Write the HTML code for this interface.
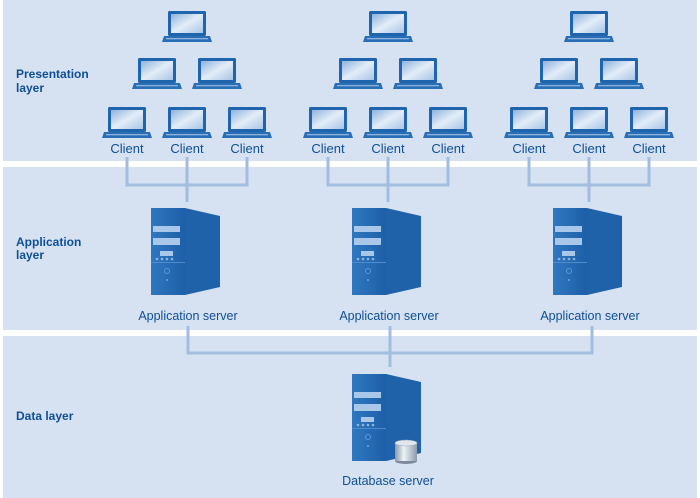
<!DOCTYPE html>
<html><head><meta charset="utf-8"><style>
html,body{margin:0;padding:0;background:#fff;}
svg{display:block;}
text{font-family:"Liberation Sans",Arial,sans-serif;fill:#0f4f94;}
</style></head><body>
<svg width="700" height="498" viewBox="0 0 700 498" xmlns="http://www.w3.org/2000/svg">
<defs>
<linearGradient id="scr" x1="0" y1="0" x2="1" y2="1">
<stop offset="0" stop-color="#8fb2dc"/><stop offset="0.5" stop-color="#e3edf8"/><stop offset="1" stop-color="#a9c5e6"/>
</linearGradient>
<linearGradient id="front" x1="0" y1="0" x2="1" y2="0">
<stop offset="0" stop-color="#2f78c0"/><stop offset="1" stop-color="#1d5fa8"/>
</linearGradient>
<linearGradient id="cyl" x1="0" y1="0" x2="1" y2="0">
<stop offset="0" stop-color="#8a98a8"/><stop offset="0.4" stop-color="#eef2f6"/><stop offset="1" stop-color="#8c9aab"/>
</linearGradient>
<g id="lap">
<rect x="0" y="0" width="38" height="25" rx="1.5" fill="#1f65ad"/>
<rect x="3" y="3" width="32" height="19" fill="url(#scr)"/>
<path d="M-4 25 L42 25 L44 31 L-6 31 Z" fill="#2a6fb6"/>
<rect x="-2" y="27" width="42" height="1.3" fill="#8fb2dc"/>
</g>
<g id="srv">
<path d="M0 0 L34 0 L34 87 L0 87 Z" fill="url(#front)"/>
<path d="M34 0 L69 8 L69 79 L34 87 Z" fill="#1f62aa"/>
<rect x="2" y="18" width="27" height="6" fill="#a9c7e8"/>
<rect x="2" y="30" width="27" height="7" fill="#a9c7e8"/>
<rect x="9" y="43" width="13" height="5" fill="#a9c7e8"/>
<g fill="#8db4e0"><circle cx="6" cy="51" r="1.3"/><circle cx="11" cy="51" r="1.3"/><circle cx="16" cy="51" r="1.3"/><circle cx="21" cy="51" r="1.3"/></g>
<rect x="0" y="54" width="34" height="1" fill="#4f8ccb"/>
<circle cx="16" cy="63" r="2.5" fill="none" stroke="#5d97d2" stroke-width="1"/>
<circle cx="16" cy="72" r="1" fill="#6ea2d8"/>
</g>
</defs>
<rect x="0" y="0" width="700" height="498" fill="#fff"/>
<rect x="3" y="0" width="694" height="161" fill="#d6e2f2"/>
<rect x="3" y="167" width="694" height="163" fill="#d6e2f2"/>
<rect x="3" y="336" width="694" height="162" fill="#d6e2f2"/>

<text x="16" y="78" font-size="12" font-weight="bold">Presentation</text>
<text x="16" y="92" font-size="12" font-weight="bold">layer</text>
<text x="16" y="246" font-size="12" font-weight="bold">Application</text>
<text x="16" y="259" font-size="12" font-weight="bold">layer</text>
<text x="16" y="420" font-size="12" font-weight="bold">Data layer</text>

<g stroke="#a3bddf" stroke-width="3" fill="none">
<path d="M127 157 V185 H247 V157 M187 157 V202"/>
<path d="M328 157 V185 H448 V157 M388 157 V202"/>
<path d="M529 157 V185 H649 V157 M589 157 V202"/>
<path d="M188 326 V353 H592 V326 M390 326 V367"/>
</g>

<g id="grp">
<use href="#lap" x="168" y="11"/>
<use href="#lap" x="138" y="58"/>
<use href="#lap" x="198" y="58"/>
<use href="#lap" x="108" y="107"/>
<use href="#lap" x="168" y="107"/>
<use href="#lap" x="228" y="107"/>
<text x="127" y="153" font-size="13" text-anchor="middle">Client</text>
<text x="187" y="153" font-size="13" text-anchor="middle">Client</text>
<text x="247" y="153" font-size="13" text-anchor="middle">Client</text>
<use href="#srv" x="151" y="208"/>
<text x="188" y="320" font-size="12.5" text-anchor="middle">Application server</text>
</g>
<use href="#grp" x="201" y="0"/>
<use href="#grp" x="402" y="0"/>

<use href="#srv" x="352" y="374"/>
<ellipse cx="406" cy="461" rx="11" ry="3" fill="#7d8b9b"/>
<rect x="395" y="443" width="22" height="18" fill="url(#cyl)"/>
<ellipse cx="406" cy="443" rx="11" ry="3" fill="#dfe6ee" stroke="#9aa7b6" stroke-width="0.6"/>
<text x="388" y="485" font-size="12.5" text-anchor="middle">Database server</text>
</svg>
</body></html>
